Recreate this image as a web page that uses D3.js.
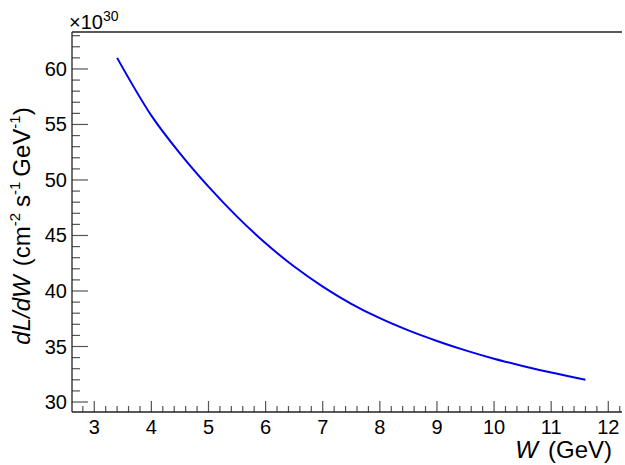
<!DOCTYPE html>
<html><head><meta charset="utf-8">
<script src="https://cdn.jsdelivr.net/npm/d3@7"></script>
<style>body{margin:0;background:#fff}svg{font-family:"Liberation Sans",Arial,sans-serif}</style>
</head><body><svg id="c" width="625" height="465"></svg>
<script>
const W = [3.4,4,4.5,5,5.5,6,6.5,7,7.5,8,8.5,9,9.5,10,10.5,11,11.6];
const L = [61,55.8,52.4,49.4,46.7,44.3,42.2,40.4,38.85,37.55,36.45,35.5,34.65,33.9,33.25,32.65,32.0];
const xTicks = [3,4,5,6,7,8,9,10,11,12];
const yTicks = [30,35,40,45,50,55,60];
const svg = d3.select("#c");
const l=72,r=622,t=32,b=412;
const x = d3.scaleLinear().domain([2.61,12.24]).range([l,r]);
const y = d3.scaleLinear().domain([29.1,63.33]).range([b,t]);
const g = svg.append("g");
d3.range(2.8,12.21,0.2).forEach(v=>{const maj=Math.abs(v-Math.round(v))<1e-6;
 g.append("line").attr("x1",x(v)).attr("x2",x(v)).attr("y1",b).attr("y2",b-(maj?11:6)).attr("stroke","#555").attr("stroke-width",1.2);});
d3.range(30,63.1,1).forEach(v=>{const maj=v%5===0;
 g.append("line").attr("y1",y(v)).attr("y2",y(v)).attr("x1",l).attr("x2",l+(maj?16:8)).attr("stroke","#555").attr("stroke-width",1.2);});
g.append("line").attr("x1",l).attr("x2",r).attr("y1",b).attr("y2",b).attr("stroke","#222").attr("stroke-width",1.3);
g.append("line").attr("x1",l).attr("x2",l).attr("y1",t).attr("y2",b).attr("stroke","#222").attr("stroke-width",1.3);
g.append("line").attr("x1",l).attr("x2",r).attr("y1",t).attr("y2",t).attr("stroke","#222").attr("stroke-width",1.3);
xTicks.forEach(v=>g.append("text").attr("x",x(v)).attr("y",434).attr("text-anchor","middle").attr("font-size",20).text(v));
yTicks.forEach(v=>g.append("text").attr("x",67).attr("y",y(v)+7).attr("text-anchor","end").attr("font-size",20).text(v));
const ex = g.append("text").attr("x",69).attr("y",29).attr("font-size",20);
ex.append("tspan").text("×10");
ex.append("tspan").attr("dy",-8).attr("font-size",14).text("30");
const xt = g.append("text").attr("x",612).attr("y",458).attr("text-anchor","end").attr("font-size",24);
xt.append("tspan").attr("font-style","italic").text("W");
xt.append("tspan").attr("dx",10).text("(GeV)");
const yt = g.append("text").attr("transform","translate(30,226) rotate(-90)").attr("text-anchor","middle").attr("font-size",24);
yt.append("tspan").attr("font-style","italic").text("dL/dW");
yt.append("tspan").attr("dx",9).text("(cm");
yt.append("tspan").attr("dy",-10).attr("font-size",15).text("-2");
yt.append("tspan").attr("dy",10).attr("dx",6).text("s");
yt.append("tspan").attr("dy",-10).attr("font-size",15).text("-1");
yt.append("tspan").attr("dy",10).attr("dx",5).text("GeV");
yt.append("tspan").attr("dy",-10).attr("font-size",15).text("-1");
yt.append("tspan").attr("dy",10).text(")");
g.append("path").datum(W.map((w,i)=>[w,L[i]])).attr("fill","none").attr("stroke","#0000ee").attr("stroke-width",2)
 .attr("d",d3.line().x(d=>x(d[0])).y(d=>y(d[1])).curve(d3.curveCatmullRom));
</script></body></html>
